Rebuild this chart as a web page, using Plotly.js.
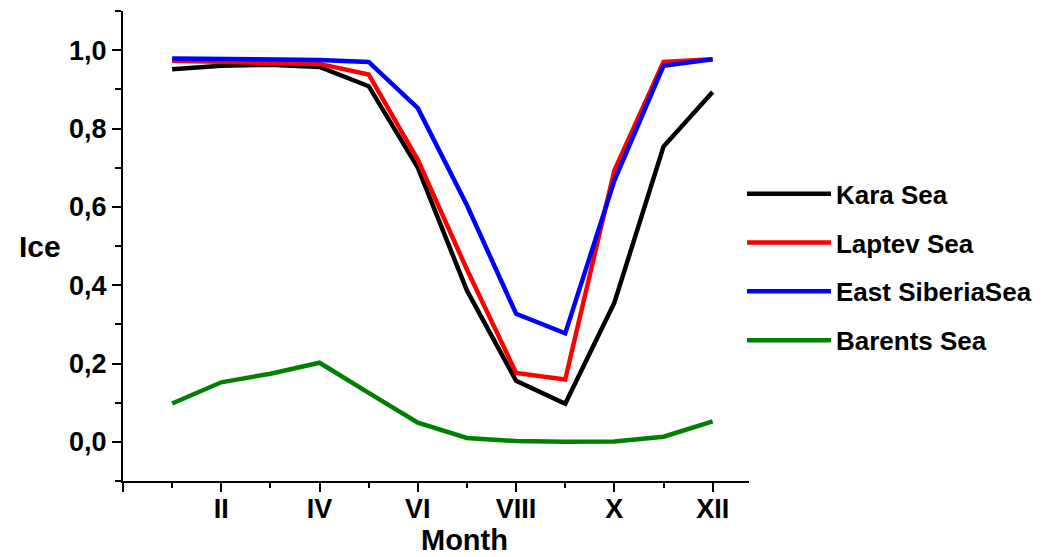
<!DOCTYPE html>
<html><head><meta charset="utf-8">
<script src="https://cdn.plot.ly/plotly-3.0.1.min.js"></script>
<style>html,body{margin:0;padding:0;background:#fff}#chart{width:1050px;height:557px}</style>
</head><body><div id="chart"></div>
<script>
const months = [1,2,3,4,5,6,7,8,9,10,11,12];
const tickMonths = [0,2,4,6,8,10,12];
const tickLabels = ['', 'II', 'IV', 'VI', 'VIII', 'X', 'XII'];
const kara    = [0.951,0.960,0.963,0.957,0.908,0.700,0.386,0.156,0.097,0.355,0.754,0.893];
const laptev  = [0.973,0.970,0.968,0.965,0.938,0.720,0.440,0.176,0.159,0.693,0.970,0.977];
const eastSib = [0.979,0.977,0.975,0.975,0.970,0.852,0.604,0.327,0.277,0.667,0.960,0.977];
const barents = [0.098,0.152,0.174,0.202,0.125,0.049,0.010,0.002,0.000,0.001,0.013,0.052];
const names = ['Kara Sea','Laptev Sea','East SiberiaSea','Barents Sea'];
const colors = ['#000000','#ff0000','#0000ff','#008000'];
const series = [kara, laptev, eastSib, barents];

const fam = '"Liberation Sans", Arial, sans-serif';
const traces = series.map((s,i)=>({
  x: months, y: s, name: names[i], type:'scatter', mode:'lines',
  legendgroup:'g'+i,
  line:{color:colors[i], width:4.5}
}));
const layout = {
  width:1050, height:557,
  margin:{l:123, r:301, t:11, b:76, pad:0},
  paper_bgcolor:'#fff', plot_bgcolor:'#fff',
  separators:', ',
  font:{family:fam, color:'#000', size:26, weight:'bold'},
  showlegend:true,
  legend:{x:0.9888, xanchor:'left', y:0.661, yanchor:'top', xref:'paper', yref:'paper',
    font:{family:fam, size:26, color:'#000', weight:'bold'},
    itemwidth:84, traceorder:'grouped', tracegroupgap:12, bgcolor:'rgba(0,0,0,0)'},
  xaxis:{range:[0,12.74], showgrid:false, zeroline:false, showline:true, linecolor:'#000', linewidth:2,
    tickmode:'array', tickvals:tickMonths, ticktext:tickLabels,
    ticks:'outside', ticklen:9, tickwidth:2, tickcolor:'#000', ticklabelstandoff:-6,
    minor:{tickmode:'linear', tick0:0, dtick:1, ticks:'outside', ticklen:5, tickwidth:2, tickcolor:'#000'},
    tickfont:{family:fam, size:27, color:'#000', weight:'bold'}},
  yaxis:{range:[-0.1,1.1], showgrid:false, zeroline:false, showline:true, linecolor:'#000', linewidth:2,
    tickmode:'linear', tick0:0, dtick:0.2, tickformat:'.1f',
    ticks:'outside', ticklen:9, tickwidth:2, tickcolor:'#000',
    minor:{tickmode:'linear', tick0:0.1, dtick:0.2, ticks:'outside', ticklen:6, tickwidth:2, tickcolor:'#000'},
    tickfont:{family:fam, size:27, color:'#000', weight:'bold'}},
  annotations:[
    {text:'Ice', xref:'paper', yref:'paper', x:-0.1326, y:0.5, xanchor:'center', yanchor:'middle',
     showarrow:false, font:{family:fam, size:30, color:'#000', weight:'bold'}},
    {text:'Month', xref:'paper', yref:'paper', x:0.546, y:-0.126, xanchor:'center', yanchor:'middle',
     showarrow:false, font:{family:fam, size:29, color:'#000', weight:'bold'}}
  ]
};
Plotly.newPlot('chart', traces, layout, {displayModeBar:false, staticPlot:true});
</script></body></html>
